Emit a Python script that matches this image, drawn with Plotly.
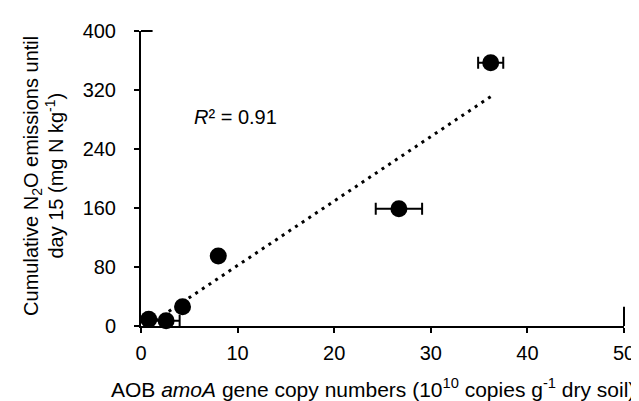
# Scatter of cumulative N2O emissions vs AOB amoA gene copies, with linear trend

import plotly.graph_objects as go

# Values
aobCopies = [0.8, 2.6, 4.3, 8.0, 26.7, 36.2]          # 10^10 copies g-1 dry soil
aobCopiesErr = [0.3, 1.4, 0.3, 0.4, 2.4, 1.3]
n2oEmissions = [9, 7, 26, 95, 159, 357]               # mg N kg-1
trendX = [0.8, 36.2]
trendY = [1.7, 311]
xTicks = [0, 10, 20, 30, 40, 50]
yTicks = [0, 80, 160, 240, 320, 400]
rSquaredText = "<i>R</i>² = 0.91"

FONT = "Liberation Sans, Arial, sans-serif"

fig = go.Figure()

# Dotted linear trendline
fig.add_trace(go.Scatter(
    x=trendX, y=trendY, mode="lines",
    line=dict(color="black", width=3, dash="3px,5px"),
    hoverinfo="skip", showlegend=False
))

# Data points with horizontal error bars
fig.add_trace(go.Scatter(
    x=aobCopies, y=n2oEmissions, mode="markers",
    marker=dict(size=17, color="black"),
    error_x=dict(type="data", array=aobCopiesErr, color="black", thickness=2, width=6),
    cliponaxis=False, showlegend=False
))

axisStyle = dict(
    showgrid=False, zeroline=False, showline=True, linecolor="black", linewidth=2,
    ticks="outside", ticklen=5, tickwidth=2, tickcolor="black",
    tickfont=dict(family=FONT, size=20, color="black"),
)

fig.update_layout(
    width=639, height=401,
    margin=dict(l=133, r=13, t=22, b=83),
    plot_bgcolor="white", paper_bgcolor="white",
    font=dict(family=FONT, size=20, color="black"),
    xaxis=dict(range=[0, 50], tickvals=xTicks, ticklabelstandoff=3, **axisStyle),
    yaxis=dict(range=[0, 400], tickvals=yTicks, ticklabelstandoff=14, **axisStyle),
)

# Small frame stubs at the axis ends, as in the original
fig.add_shape(type="line", xref="paper", yref="paper", x0=0, x1=0.024, y0=1, y1=1,
              line=dict(color="black", width=2))
fig.add_shape(type="line", xref="paper", yref="paper", x0=1, x1=1, y0=0, y1=0.065,
              line=dict(color="black", width=2))

# Axis titles as annotations for exact placement
fig.add_annotation(text="Cumulative N<sub>2</sub>O emissions until", textangle=-90,
                   xref="paper", yref="paper", x=-0.225, y=0.51,
                   xanchor="center", yanchor="middle", showarrow=False,
                   font=dict(family=FONT, size=20))
fig.add_annotation(text="day 15 (mg N kg<sup>-1</sup>)", textangle=-90,
                   xref="paper", yref="paper", x=-0.18, y=0.51,
                   xanchor="center", yanchor="middle", showarrow=False,
                   font=dict(family=FONT, size=20))
fig.add_annotation(text="AOB <i>amoA</i> gene copy numbers (10<sup>10</sup> copies g<sup>-1</sup> dry soil)",
                   xref="paper", yref="paper", x=0.481, y=-0.209,
                   xanchor="center", yanchor="middle", showarrow=False,
                   font=dict(family=FONT, size=21))

# R squared label
fig.add_annotation(text=rSquaredText, xref="x", yref="y", x=5.3, y=283,
                   xanchor="left", yanchor="middle", showarrow=False,
                   font=dict(family=FONT, size=20))

fig.write_html("out.html")
